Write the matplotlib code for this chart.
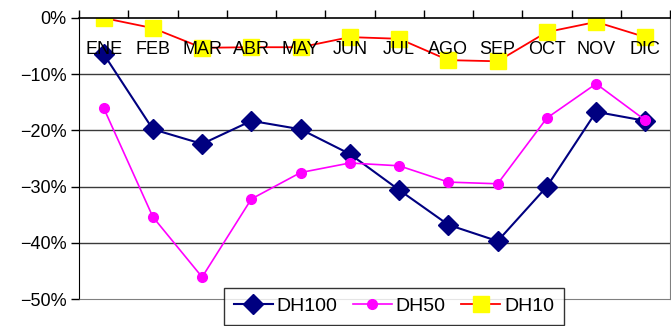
import numpy as np
import matplotlib
matplotlib.use("Agg")
import matplotlib.pyplot as plt
from matplotlib.ticker import PercentFormatter

months = ["ENE", "FEB", "MAR", "ABR", "MAY", "JUN", "JUL", "AGO", "SEP", "OCT", "NOV", "DIC"]
dh100 = [-6.4, -19.8, -22.4, -18.3, -19.8, -24.2, -30.6, -36.8, -39.7, -30.0, -16.7, -18.3]
dh50 = [-16.0, -35.4, -46.1, -32.2, -27.5, -25.8, -26.3, -29.2, -29.5, -17.8, -11.7, -18.2]
dh10 = [0.0, -1.8, -5.3, -5.2, -5.2, -3.4, -3.7, -7.5, -7.7, -2.5, -0.7, -3.4]
yticks = [0, -10, -20, -30, -40, -50]

plt.rcParams['font.family'] = ['Liberation Sans', 'DejaVu Sans']

W, H = 671, 326
fig = plt.figure(figsize=(W / 100, H / 100), dpi=100)
ax = fig.add_axes([79 / W, 1 - 299 / H, (670 - 79) / W, (299 - 18) / H])

x = np.arange(len(months)) + 0.5
ax.plot(x, dh100, color="#000080", lw=1.5, marker="D", ms=10.5,
        mfc="#000080", mec="#000080", label="DH100", zorder=2.1)
ax.plot(x, dh50, color="#ff00ff", lw=1.2, marker="o", ms=7,
        mfc="#ff00ff", mec="#ff00ff", label="DH50", zorder=2.2)
ax.plot(x, dh10, color="#ff0000", lw=1.3, marker="s", ms=11.5,
        mfc="#ffff00", mec="#ffff00", label="DH10", zorder=2.3)

for v in yticks[1:-1]:
    ax.axhline(v, color="#3a3a3a", lw=1, zorder=1)

ax.set_xlim(0, len(months))
ax.set_ylim(-50, 0)
ax.set_yticks(yticks)
ax.yaxis.set_major_formatter(PercentFormatter(decimals=0))
ax.tick_params(axis="y", direction="out", length=6, width=1, labelsize=13, pad=3)

# category axis sits on the 0% line at the top, labels hang below it
ax.set_xticks(x)
ax.set_xticklabels(months)
ax.set_xticks(np.arange(len(months) + 1), minor=True)
ax.tick_params(axis="x", which="major", top=True, bottom=False, labeltop=True,
               labelbottom=False, length=0, labelsize=13, pad=-29)
ax.tick_params(axis="x", which="minor", top=True, bottom=False, direction="out",
               length=6, width=1)
ax.set_axisbelow(False)

ax.spines["left"].set_color("black")
ax.spines["top"].set_color("black")
ax.spines["top"].set_linewidth(1.2)
ax.spines["right"].set_color("#808080")
ax.spines["bottom"].set_color("#808080")
for s in ax.spines.values():
    s.set_zorder(2.5)

leg = fig.legend(loc="lower center", bbox_to_anchor=(394 / W, 1 / H), ncol=3,
                 fontsize=14, frameon=True, fancybox=False, edgecolor="black",
                 handlelength=2.0, columnspacing=0.8, borderpad=0.5,
                 handletextpad=0.2, borderaxespad=0)
leg.get_frame().set_linewidth(1)
leg.set_zorder(5)

fig.savefig("out.png", dpi=100)
